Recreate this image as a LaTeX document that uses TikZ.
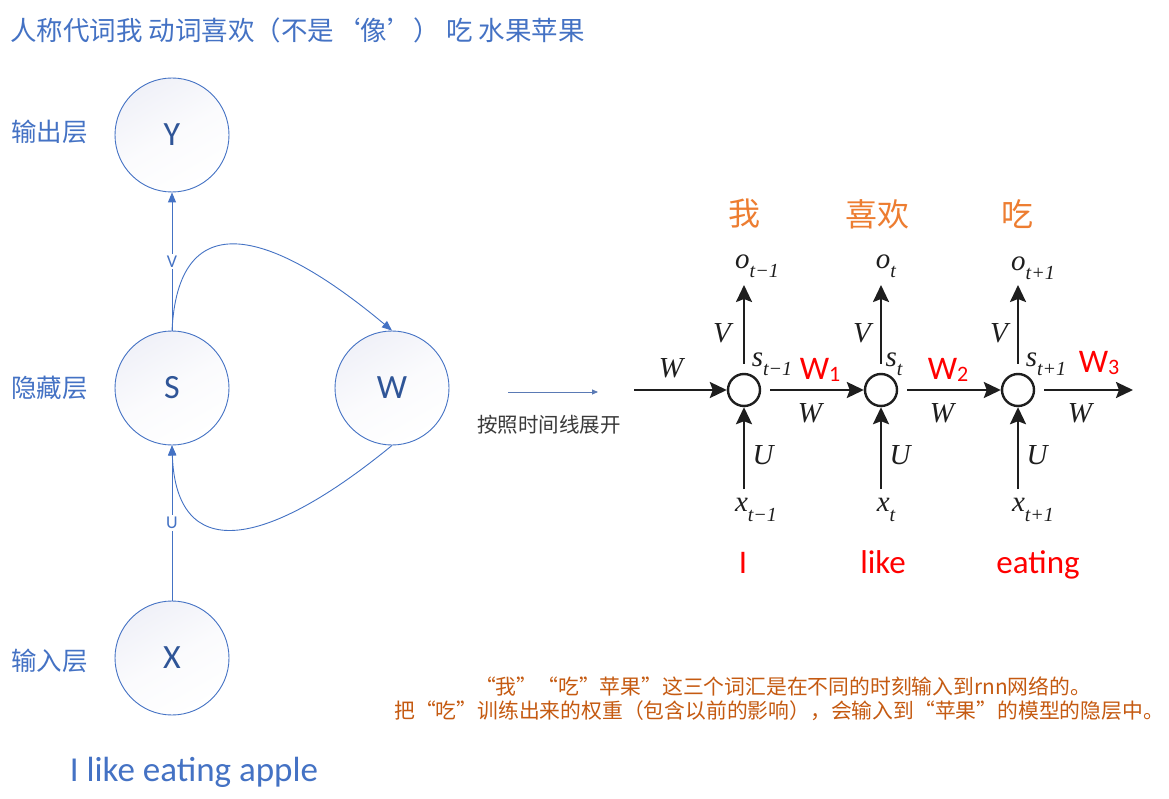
\documentclass[tikz,border=0pt]{standalone}
\usepackage{fontspec}
\usetikzlibrary{arrows.meta}
\newfontfamily\cjk{Noto Sans CJK SC}
\newfontfamily\carl{Carlito}
\newfontfamily\tms{Liberation Serif}
\definecolor{myblue}{HTML}{4472C4}
\definecolor{nodetext}{HTML}{2F5597}
\definecolor{nodetop}{HTML}{F0F1F8}
\definecolor{myorange}{HTML}{ED7D31}
\definecolor{mybrown}{HTML}{C55A11}
\definecolor{myred}{HTML}{FF0000}
\definecolor{rnnblack}{HTML}{1E1E1E}
\definecolor{midgray}{HTML}{3A3A3A}
\definecolor{midarrow}{HTML}{5A7AB5}
\newcommand{\tsub}[2]{{\itshape #1}\raisebox{-0.32em}{\fontsize{20}{20}\selectfont\itshape #2}}
\newcommand{\wsub}[2]{#1\raisebox{-2pt}{\fontsize{22}{22}\selectfont #2}}
\tikzset{
  bignode/.style={circle, draw=myblue, line width=0.9pt, minimum size=114pt, inner sep=0pt,
    top color=nodetop, bottom color=white, middle color=white!70!nodetop, shading angle=30,
    font=\carl\fontsize{34}{34}\selectfont, text=nodetext},
  layerlbl/.style={anchor=west, inner sep=0pt, font=\cjk\fontsize{25.5}{25.5}\selectfont, text=myblue},
  titlelbl/.style={anchor=west, inner sep=0pt, font=\cjk\fontsize{26.5}{26.5}\selectfont, text=myblue},
  blarrow/.style={draw=myblue, line width=0.9pt, -{Triangle[length=10pt,width=8pt]}},
  edgelbl/.style={fill=white, inner sep=2pt, font=\carl\fontsize{18}{18}\selectfont, text=myblue},
  rnode/.style={circle, draw=rnnblack, line width=2.4pt, minimum size=32pt, inner sep=0pt},
  rarr/.style={draw=rnnblack, line width=2.3pt, -{Stealth[length=17pt,width=16pt,inset=3pt]}},
  rlbl/.style={inner sep=0pt, font=\tms\fontsize{29}{29}\selectfont, text=rnnblack},
  orlbl/.style={inner sep=0pt, font=\cjk\fontsize{32}{32}\selectfont, text=myorange},
  redlbl/.style={anchor=base, inner sep=0pt, font=\carl\fontsize{33}{33}\selectfont, text=myred},
  notelbl/.style={inner sep=0pt, font=\cjk\fontsize{20.8}{20.8}\selectfont, text=mybrown},
}
\begin{document}
\begin{tikzpicture}[x=1pt,y=-1pt]
\useasboundingbox[fill=white] (0,0) rectangle (1169,799);

% title
\node[titlelbl] (title) at (10,30) {人称代词我 动词喜欢（不是‘像’） 吃 水果苹果};

% layer labels
\node[layerlbl] (lout) at (11,132) {输出层};
\node[layerlbl] (lhid) at (11,388) {隐藏层};
\node[layerlbl] (lin) at (11,661) {输入层};

% left network
\node[bignode] (Y) at (172,135) {Y};
\node[bignode] (S) at (172,388) {S};
\node[bignode] (W) at (392,388) {W};
\node[bignode] (X) at (172,658) {X};

\draw[blarrow] (S.north) -- node[edgelbl] (vl) {V} (Y.south);
\draw[blarrow] (X.north) -- node[edgelbl] (ul) {U} (S.south);
\draw[blarrow] (S.north) .. controls (178,210) and (262,222) .. (W.north);
\draw[blarrow] (W.south) .. controls (262,552) and (176,562) .. (S.south);

\node[anchor=base, inner sep=0pt, font=\carl\fontsize{35}{35}\selectfont, text=myblue] (sent) at (194,781) {I like eating apple};

% middle arrow
\coordinate (ma) at (508,392);
\coordinate (mb) at (598,392);
\draw[draw=midarrow, line width=0.8pt, -{Triangle[length=6pt,width=5pt]}] (ma) -- (mb);
\node[inner sep=0pt, font=\cjk\fontsize{20.5}{20.5}\selectfont, text=midgray] (unfold) at (549,425) {按照时间线展开};

% RNN unfolded
\node[rnode] (c1) at (744,390) {};
\node[rnode] (c2) at (881,390) {};
\node[rnode] (c3) at (1018,390) {};

\coordinate (in0) at (634,390);
\coordinate (out3) at (1133,390);
\draw[rarr] (in0) -- (c1);
\draw[rarr, shorten <=9pt] (c1) -- (c2);
\draw[rarr, shorten <=9pt] (c2) -- (c3);
\draw[rarr, shorten <=9pt] (c3) -- (out3);

\coordinate (t1) at (744,285);
\coordinate (t2) at (881,285);
\coordinate (t3) at (1018,285);
\coordinate (b1) at (744,489);
\coordinate (b2) at (881,489);
\coordinate (b3) at (1018,489);
\draw[rarr, shorten <=9pt] (c1) -- (t1);
\draw[rarr, shorten <=9pt] (c2) -- (t2);
\draw[rarr, shorten <=9pt] (c3) -- (t3);
\draw[rarr] (b1) -- (c1);
\draw[rarr] (b2) -- (c2);
\draw[rarr] (b3) -- (c3);

% labels of RNN
\node[rlbl] (win) at (671,368) {\itshape W};
\node[rlbl] (w12) at (810,413) {\itshape W};
\node[rlbl] (w23) at (942,413) {\itshape W};
\node[rlbl] (w3o) at (1080,413) {\itshape W};
\node[rlbl] (v1) at (722,333) {\itshape V};
\node[rlbl] (v2) at (862,333) {\itshape V};
\node[rlbl] (v3) at (999,333) {\itshape V};
\node[rlbl] (u1) at (763,455) {\itshape U};
\node[rlbl] (u2) at (900,455) {\itshape U};
\node[rlbl] (u3) at (1037,455) {\itshape U};
\node[rlbl] (o1) at (757,266) {\tsub{o}{t−1}};
\node[rlbl] (o2) at (886,266) {\tsub{o}{t}};
\node[rlbl] (o3) at (1033,268) {\tsub{o}{t+1}};
\node[rlbl] (s1) at (772,364) {\tsub{s}{t−1}};
\node[rlbl] (s2) at (894,364) {\tsub{s}{t}};
\node[rlbl] (s3) at (1046,364) {\tsub{s}{t+1}};
\node[rlbl] (x1) at (756,510) {\tsub{x}{t−1}};
\node[rlbl] (x2) at (886,510) {\tsub{x}{t}};
\node[rlbl] (x3) at (1033,510) {\tsub{x}{t+1}};

% red W labels
\node[redlbl] (rw1) at (820,379) {\wsub{W}{1}};
\node[redlbl] (rw2) at (948,379) {\wsub{W}{2}};
\node[redlbl] (rw3) at (1099,372) {\wsub{W}{3}};

% orange words
\node[orlbl] (ow1) at (744,214) {我};
\node[orlbl] (ow2) at (877,214) {喜欢};
\node[orlbl] (ow3) at (1017,214) {吃};

% red words
\node[redlbl] (e1) at (743,573) {I};
\node[redlbl] (e2) at (883,573) {like};
\node[redlbl] (e3) at (1038,573) {eating};

% notes
\node[notelbl] (n1) at (783,686) {“我”“吃”苹果”这三个词汇是在不同的时刻输入到rnn网络的。};
\node[notelbl] (n2) at (779,711) {把“吃”训练出来的权重（包含以前的影响），会输入到“苹果”的模型的隐层中。};
\end{tikzpicture}
\end{document}
